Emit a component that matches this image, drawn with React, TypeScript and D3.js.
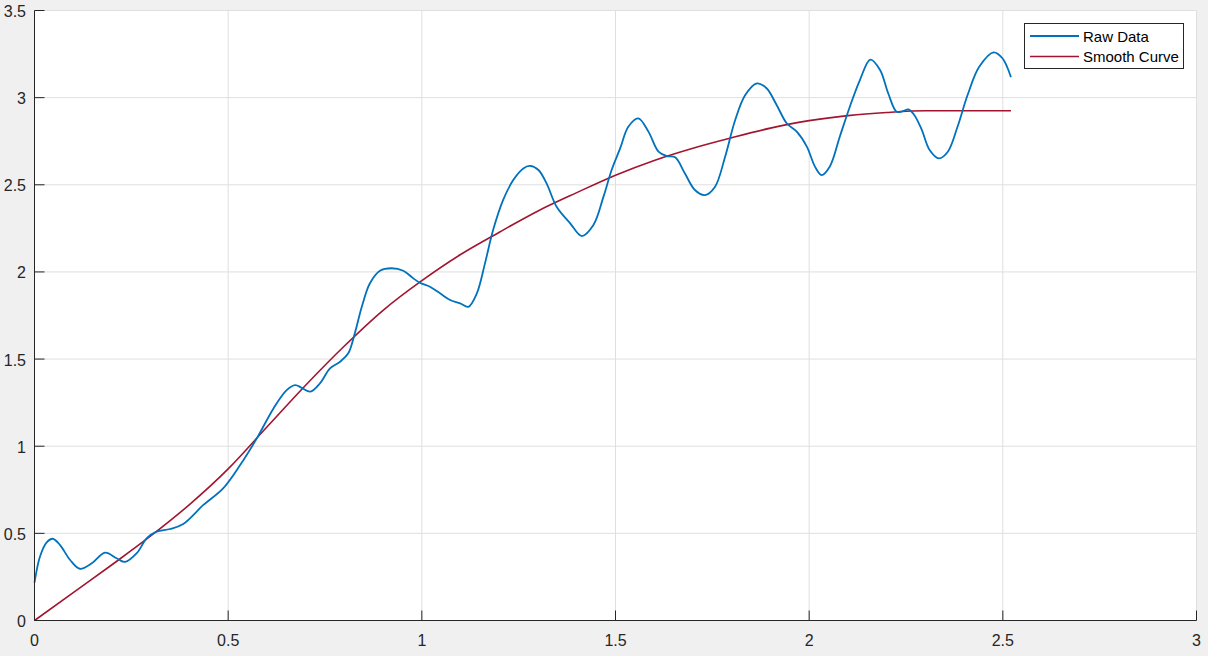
import React from 'react';
import * as d3 from 'd3';

// raw signal
const rawX = [0, 0.014, 0.031, 0.047, 0.066, 0.092, 0.117, 0.148, 0.182, 0.212, 0.234, 0.264, 0.29, 0.315, 0.35, 0.384, 0.436, 0.487, 0.531, 0.574, 0.617, 0.651, 0.673, 0.69, 0.712, 0.737, 0.763, 0.789, 0.81, 0.827, 0.845, 0.866, 0.892, 0.922, 0.952, 0.978, 0.995, 1.021, 1.047, 1.073, 1.099, 1.12, 1.142, 1.163, 1.184, 1.21, 1.236, 1.262, 1.279, 1.301, 1.322, 1.348, 1.383, 1.413, 1.443, 1.469, 1.49, 1.512, 1.533, 1.559, 1.585, 1.611, 1.632, 1.654, 1.679, 1.705, 1.731, 1.757, 1.783, 1.809, 1.835, 1.865, 1.89, 1.916, 1.942, 1.968, 1.994, 2.015, 2.032, 2.053, 2.079, 2.105, 2.131, 2.158, 2.183, 2.204, 2.226, 2.242, 2.256, 2.27, 2.29, 2.311, 2.335, 2.358, 2.383, 2.409, 2.439, 2.476, 2.499, 2.521];
const rawY = [0.217, 0.366, 0.447, 0.469, 0.433, 0.347, 0.297, 0.328, 0.389, 0.357, 0.336, 0.386, 0.472, 0.51, 0.525, 0.554, 0.663, 0.758, 0.892, 1.045, 1.217, 1.322, 1.351, 1.335, 1.313, 1.361, 1.447, 1.485, 1.533, 1.648, 1.8, 1.935, 2.007, 2.021, 2.007, 1.963, 1.938, 1.915, 1.877, 1.839, 1.82, 1.8, 1.877, 2.049, 2.24, 2.413, 2.527, 2.594, 2.608, 2.585, 2.508, 2.374, 2.279, 2.206, 2.269, 2.432, 2.585, 2.709, 2.833, 2.881, 2.805, 2.69, 2.665, 2.658, 2.566, 2.47, 2.441, 2.489, 2.661, 2.872, 3.015, 3.082, 3.054, 2.958, 2.853, 2.805, 2.719, 2.604, 2.556, 2.604, 2.776, 2.948, 3.101, 3.218, 3.159, 3.025, 2.919, 2.922, 2.933, 2.905, 2.82, 2.7, 2.652, 2.69, 2.833, 3.015, 3.177, 3.26, 3.226, 3.117];

// fitted curve
const smoothX = [0, 0.1, 0.2, 0.3, 0.4, 0.5, 0.6, 0.7, 0.8, 0.9, 1.0, 1.1, 1.2, 1.3, 1.4, 1.5, 1.6, 1.7, 1.8, 1.9, 2.0, 2.1, 2.2, 2.3, 2.4, 2.521];
const smoothY = [0, 0.16, 0.32, 0.485, 0.665, 0.87, 1.11, 1.35, 1.575, 1.78, 1.95, 2.1, 2.228, 2.35, 2.455, 2.555, 2.64, 2.71, 2.77, 2.825, 2.868, 2.897, 2.915, 2.925, 2.925, 2.925];

const xTicks = [0, 0.5, 1, 1.5, 2, 2.5, 3];
const yTicks = [0, 0.5, 1, 1.5, 2, 2.5, 3, 3.5];

const W = 1208;
const H = 656;
const left = 34.5, top = 10.5, right = 1196.5, bottom = 620.5;
const axisColor = '#262626';
const gridColor = '#dfdfdf';
const blue = '#0072BD';
const red = '#A2142F';
const font = 'Arial, "Liberation Sans", Helvetica, sans-serif';

export default function App() {
  const x = d3.scaleLinear().domain([0, 3]).range([left, right]);
  const y = d3.scaleLinear().domain([0, 3.5]).range([bottom, top]);

  const rawLine = d3.line<number>()
    .x((_, i) => x(rawX[i]))
    .y(d => y(d))
    .curve(d3.curveCatmullRom.alpha(0.5));
  const smoothLine = d3.line<number>()
    .x((_, i) => x(smoothX[i]))
    .y(d => y(d))
    .curve(d3.curveMonotoneX);

  const legendX = 1024.5, legendY = 23.5;

  return (
    <div style={{ position: 'fixed', left: 0, top: 0, width: W, height: H, background: '#f0f0f0' }}>
      <svg width={W} height={H} style={{ display: 'block' }}>
        <rect x={left} y={top} width={right - left} height={bottom - top} fill="#fff" />
        {/* grid */}
        {xTicks.map(t => (
          <line key={'gx' + t} x1={x(t)} x2={x(t)} y1={top} y2={bottom} stroke={gridColor} strokeWidth={1} />
        ))}
        {yTicks.map(t => (
          <line key={'gy' + t} x1={left} x2={right} y1={y(t)} y2={y(t)} stroke={gridColor} strokeWidth={1} />
        ))}

        <path d={smoothLine(smoothY) || ''} fill="none" stroke={red} strokeWidth={1.6} />
        <path d={rawLine(rawY) || ''} fill="none" stroke={blue} strokeWidth={1.8} />

        {/* axes */}
        <line x1={left} x2={left} y1={top} y2={bottom} stroke={axisColor} strokeWidth={1} />
        <line x1={left} x2={right} y1={bottom} y2={bottom} stroke={axisColor} strokeWidth={1} />
        {xTicks.map(t => (
          <g key={'tx' + t}>
            <line x1={x(t)} x2={x(t)} y1={bottom} y2={bottom - 10} stroke={axisColor} strokeWidth={1} />
            <text x={x(t)} y={645.5} textAnchor="middle" fontFamily={font} fontSize={16} fill={axisColor}>{t}</text>
          </g>
        ))}
        {yTicks.map(t => (
          <g key={'ty' + t}>
            <line x1={left} x2={left + 10} y1={y(t)} y2={y(t)} stroke={axisColor} strokeWidth={1} />
            <text x={26} y={y(t) + 6.5} textAnchor="end" fontFamily={font} fontSize={16} fill={axisColor}>{t}</text>
          </g>
        ))}

        {/* legend */}
        <g>
          <rect x={legendX} y={legendY} width={159} height={45} fill="#fff" stroke={axisColor} strokeWidth={1} />
          <line x1={1030} x2={1079} y1={36} y2={36} stroke={blue} strokeWidth={1.8} />
          <text x={1083} y={41.5} fontFamily={font} fontSize={15} fill="#000">Raw Data</text>
          <line x1={1030} x2={1079} y1={56.5} y2={56.5} stroke={red} strokeWidth={1.6} />
          <text x={1083} y={62} fontFamily={font} fontSize={15} fill="#000">Smooth Curve</text>
        </g>
      </svg>
    </div>
  );
}
